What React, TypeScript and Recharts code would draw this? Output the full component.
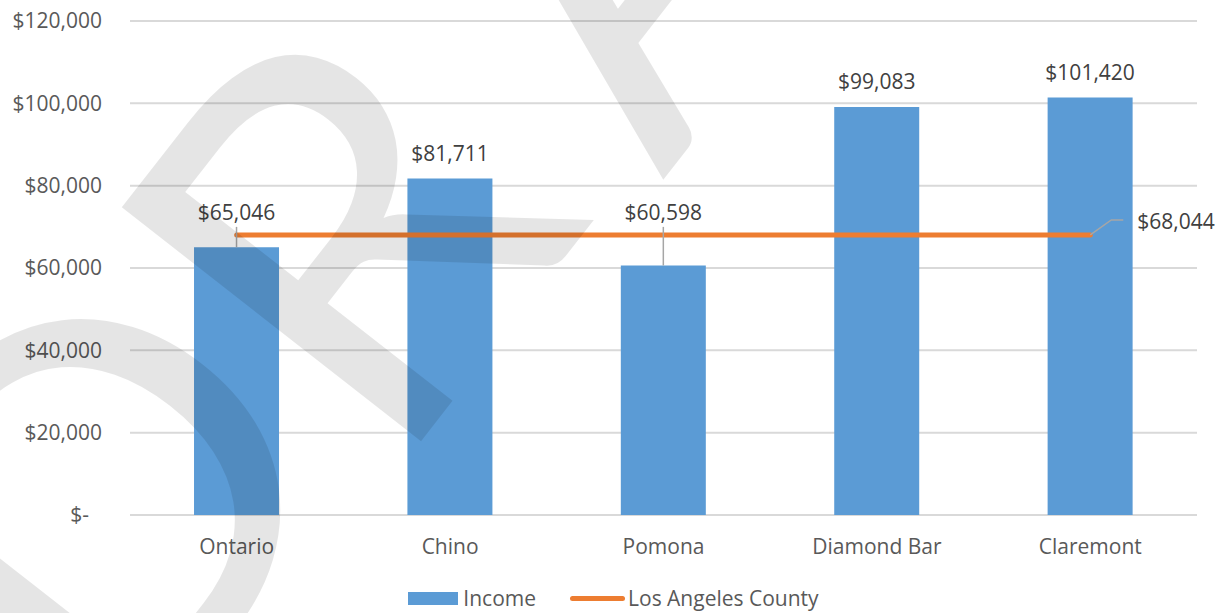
import React from 'react';
import { ComposedChart, Bar, Line, XAxis, YAxis, CartesianGrid, Legend, LabelList } from 'recharts';

// values
const categories = ['Ontario', 'Chino', 'Pomona', 'Diamond Bar', 'Claremont'];
const income = [65046, 81711, 60598, 99083, 101420];
const countyIncome = [68044, 68044, 68044, 68044, 68044];
const yTicks = [0, 20000, 40000, 60000, 80000, 100000, 120000];

const data = categories.map((name, i) => ({ name, income: income[i], county: countyIncome[i] }));

const FONT = '"Open Sans", Lato, sans-serif';
const BLUE = '#5B9BD5';
const ORANGE = '#ED7D31';
const LEADER = '#A6A6A6';

const money = (v: number) => '$' + v.toLocaleString('en-US');

const YTick = (props: any) => {
  const { x, y, payload } = props;
  const v = payload.value;
  return (
    <text x={v === 0 ? x - 13 : x} y={y} dy="0.35em" textAnchor="end" fill="#595959" fontSize={21} fontFamily={FONT}>
      {v === 0 ? '$-' : money(v)}
    </text>
  );
};

// bars below the county line get their label lifted above the line with a leader
const BarLabel = (props: any) => {
  const { x, y, width, height, value, index } = props;
  const cx = x + width / 2;
  const base = y + height;
  const county = countyIncome[index];
  if (value < county) {
    const lineY = base - (county * height) / value;
    const ly = lineY - 22;
    return (
      <g>
        <line x1={cx} x2={cx} y1={ly + 14} y2={y} stroke={LEADER} strokeWidth={1.5} />
        <text x={cx} y={ly} dy="0.35em" textAnchor="middle" fill="#404040" fontSize={21} fontFamily={FONT}>
          {money(value)}
        </text>
      </g>
    );
  }
  return (
    <text x={cx} y={y - 25} dy="0.35em" textAnchor="middle" fill="#404040" fontSize={21} fontFamily={FONT}>
      {money(value)}
    </text>
  );
};

const LineLabel = (props: any) => {
  const { x, y, value, index } = props;
  if (index !== categories.length - 1) return null;
  return (
    <g>
      <polyline points={`${x},${y} ${x + 21},${y - 15} ${x + 33},${y - 15}`} fill="none" stroke={LEADER} strokeWidth={1.5} />
      <text x={x + 47} y={y - 13} dy="0.35em" textAnchor="start" fill="#404040" fontSize={21} fontFamily={FONT}>
        {money(value)}
      </text>
    </g>
  );
};

const LegendBox = () => (
  <div style={{ width: 1227, height: 30, display: 'flex', justifyContent: 'center', alignItems: 'center', fontFamily: FONT, fontSize: 21, color: '#595959' }}>
    <span style={{ display: 'inline-block', width: 50, height: 13, background: BLUE, marginRight: 5 }} />
    <span style={{ marginRight: 34 }}>Income</span>
    <span style={{ display: 'inline-block', width: 55, height: 5, borderRadius: 3, background: ORANGE, marginRight: 3 }} />
    <span>Los Angeles County</span>
  </div>
);

export default function App() {
  return (
    <div style={{ position: 'absolute', left: 0, top: 0, width: 1227, height: 613, background: '#fff', overflow: 'hidden' }}>
      <ComposedChart width={1227} height={613} data={data} margin={{ top: 21, right: 30, bottom: 0, left: 0 }} barCategoryGap="30%">
        <CartesianGrid vertical={false} stroke="#D9D9D9" strokeWidth={2} />
        <XAxis dataKey="name" axisLine={false} tickLine={false} tickSize={0} tickMargin={24} height={68}
          tick={{ fill: '#595959', fontSize: 21, fontFamily: FONT }} />
        <YAxis domain={[0, 120000]} ticks={yTicks} axisLine={false} tickLine={false} tickSize={0} tickMargin={28}
          width={130} tick={<YTick />} interval={0} />
        <Legend verticalAlign="bottom" height={30} wrapperStyle={{ left: 0, width: 1227 }} content={<LegendBox />} />
        <Bar dataKey="income" name="Income" fill={BLUE} isAnimationActive={false}>
          <LabelList dataKey="income" content={<BarLabel />} />
        </Bar>
        <Line dataKey="county" name="Los Angeles County" type="linear" stroke={ORANGE} strokeWidth={5} strokeLinecap="round"
          dot={false} activeDot={false} isAnimationActive={false}>
          <LabelList dataKey="county" content={<LineLabel />} />
        </Line>
      </ComposedChart>
      {/* DRAFT watermark over the chart */}
      <svg width={1227} height={613} style={{ position: 'absolute', left: 0, top: 0, pointerEvents: 'none' }}>
        <text x={143} y={797} transform="rotate(-52 143 797)" fontFamily="Lato, sans-serif" fontWeight={400} fontSize={530}
          fill="#000" fillOpacity={0.1}>
          <tspan dy={-30}>D</tspan>
          <tspan dy={30}>R</tspan>
          <tspan dx={70} dy={30}>AFT</tspan>
        </text>
      </svg>
    </div>
  );
}
